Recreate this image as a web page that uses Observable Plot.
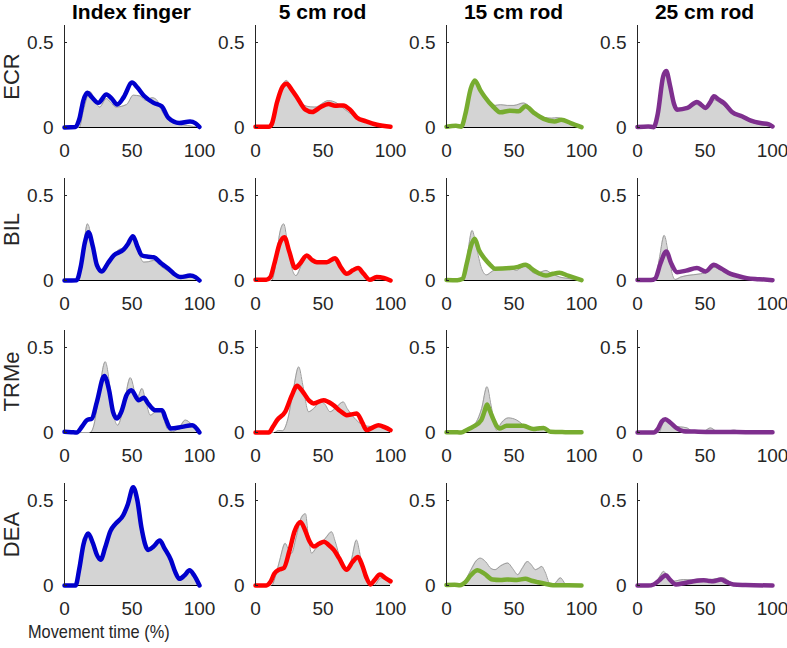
<!DOCTYPE html>
<html><head><meta charset="utf-8">
<script src="https://cdn.jsdelivr.net/npm/d3@7"></script>
<script src="https://cdn.jsdelivr.net/npm/@observablehq/plot@0.6"></script>
<style>
body{margin:0;background:#fff;}
#chart{position:relative;width:787px;height:648px;font-family:"Liberation Sans",Arial,sans-serif;overflow:hidden;background:#fff;color:#000}
.title{position:absolute;font-weight:bold;font-size:21px;text-align:center;width:200px;line-height:21px;height:21px}
.xlab{position:absolute;font-size:19px;line-height:21px;color:#262626;white-space:nowrap;transform:scaleX(0.86);transform-origin:0 0}
</style>
</head><body>
<div id="chart"></div>
<script>
const muscles = ["ECR", "BIL", "TRMe", "DEA"];
const conditions = ["Index finger", "5 cm rod", "15 cm rod", "25 cm rod"];
const lineColors = ["#0000cc", "#ff0000", "#77ac30", "#7e2f8e"];
const xTicks = [0, 50, 100];
const yTicks = [0, 0.5];
const xLabel = "Movement time (%)";

// ---- ECR ----
const ECR_index_line = [[0,0],[8,0.003],[11,0.05],[14,0.16],[17,0.204],[20,0.18],[25,0.145],[31,0.194],[35,0.17],[39,0.135],[44,0.18],[50,0.264],[54,0.235],[59,0.185],[66,0.145],[72,0.125],[77,0.056],[85,0.026],[93,0.036],[97,0.025],[100,0.003]];
const ECR_index_area = [[0,0],[11,0],[14,0.1],[19,0.21],[22,0.17],[26,0.12],[31,0.17],[34,0.15],[38,0.12],[46,0.135],[51,0.19],[56,0.185],[60,0.16],[65,0.175],[68,0.165],[73,0.085],[81,0.026],[91,0.012],[100,0]];
const ECR_5_line = [[0,0.005],[10,0.005],[12,0.02],[16,0.15],[20,0.24],[23,0.257],[27,0.22],[31,0.174],[37,0.105],[42,0.091],[48,0.119],[54,0.138],[59,0.128],[65,0.13],[70,0.105],[75,0.059],[82,0.036],[90,0.016],[100,0.004]];
const ECR_5_area = [[0,0],[12,0],[16,0.13],[20,0.25],[23,0.277],[27,0.22],[32,0.16],[38,0.125],[44,0.12],[54,0.158],[60,0.145],[64,0.12],[68,0.095],[75,0.06],[85,0.03],[92,0.012],[100,0]];
const ECR_15_line = [[0,0.005],[7,0.01],[11,0.005],[14,0.08],[18,0.23],[21,0.277],[25,0.22],[28,0.184],[35,0.119],[40,0.089],[47,0.099],[53.5,0.095],[58.5,0.125],[65,0.085],[72,0.051],[80,0.036],[85,0.045],[92,0.026],[100,0.002]];
const ECR_15_area = [[0,0],[12,0],[15,0.1],[18,0.24],[21,0.275],[25,0.21],[30,0.17],[36,0.13],[40,0.134],[45,0.13],[50,0.13],[57,0.144],[62,0.12],[66,0.085],[72,0.06],[78,0.055],[82,0.058],[86,0.05],[92,0.025],[100,0]];
const ECR_25_line = [[0,0.003],[8,0.006],[12,0.002],[15,0.08],[19,0.3],[21.3,0.332],[24,0.25],[27,0.14],[29.3,0.105],[37,0.115],[44,0.15],[47,0.135],[50.4,0.115],[54,0.15],[56.6,0.184],[60,0.165],[64,0.144],[70,0.091],[77.7,0.065],[84,0.04],[91,0.026],[97,0.02],[100,0.006]];
const ECR_25_area = [[0,0],[13,0],[16,0.12],[19,0.29],[21.3,0.32],[24,0.23],[28,0.12],[32,0.11],[38,0.125],[44,0.135],[50,0.11],[56,0.164],[62,0.14],[70,0.09],[78,0.055],[88,0.022],[95,0.012],[100,0]];

// ---- BIL ----
const BIL_index_line = [[0,0],[9,0.002],[12,0.08],[15,0.22],[17.8,0.284],[21,0.2],[24,0.09],[27.7,0.053],[32,0.1],[36.4,0.147],[43.8,0.182],[47,0.215],[50.7,0.261],[54,0.2],[57.4,0.147],[62,0.14],[66,0.137],[72,0.098],[77,0.069],[81,0.04],[86,0.02],[93,0.029],[97,0.02],[100,0]];
const BIL_index_area = [[0,0],[10,0],[13,0.12],[17,0.333],[20,0.25],[23,0.1],[26.5,0.049],[31,0.1],[35,0.14],[40,0.18],[45,0.196],[50.7,0.245],[54,0.18],[58.7,0.108],[62,0.11],[66,0.118],[72,0.08],[80,0.04],[88,0.015],[95,0.02],[100,0]];
const BIL_5_line = [[0,0.005],[8,0.005],[11,0.02],[14,0.1],[18,0.22],[21.4,0.255],[25,0.17],[29.5,0.073],[33,0.1],[38,0.147],[42,0.12],[45.5,0.108],[52.8,0.108],[59,0.131],[63,0.08],[67.6,0.039],[72,0.06],[76,0.073],[80,0.04],[84.8,0.004],[89.7,0.02],[95,0.015],[100,0]];
const BIL_5_area = [[0,0],[12,0],[15,0.1],[18,0.28],[20.9,0.333],[24,0.2],[27,0.07],[30,0.029],[34,0.09],[38,0.14],[43,0.115],[53,0.108],[59,0.135],[63,0.08],[67.6,0.039],[72,0.06],[76,0.07],[80,0.04],[85,0.005],[92,0.01],[100,0]];
const BIL_15_line = [[0,0.003],[8,0.002],[12,0.01],[15,0.1],[18,0.2],[20.9,0.245],[24,0.18],[28.4,0.127],[32,0.095],[36,0.069],[47,0.073],[53,0.08],[58.5,0.092],[64.8,0.059],[69,0.04],[73.6,0.029],[79,0.04],[83.7,0.045],[90,0.028],[100,0.002]];
const BIL_15_area = [[0,0],[12,0],[15,0.12],[19,0.294],[22,0.2],[26,0.07],[29.6,0.033],[34,0.055],[39.7,0.069],[47,0.07],[52,0.06],[55,0.075],[58,0.085],[62,0.06],[66,0.04],[70,0.05],[73.6,0.059],[78,0.04],[84,0.02],[90,0.012],[100,0]];
const BIL_25_line = [[0,0.003],[10,0.003],[13,0.01],[17,0.1],[21.3,0.171],[25,0.1],[29.3,0.049],[36,0.058],[44,0.073],[50.4,0.053],[56.6,0.092],[62,0.07],[69,0.039],[75,0.025],[81,0.014],[90,0.008],[100,0.002]];
const BIL_25_area = [[0,0],[13,0],[16,0.12],[19.8,0.265],[23,0.15],[26,0.03],[28,0.006],[32,0.02],[36.7,0.029],[46.7,0.039],[52,0.05],[56.6,0.078],[62,0.06],[69,0.035],[78,0.02],[88,0.008],[100,0]];

// ---- TRMe ----
const TRMe_index_line = [[0,0.004],[5,0.002],[9,0],[13,0.035],[16.6,0.073],[20.3,0.082],[24,0.18],[29.5,0.333],[33,0.25],[36,0.12],[38.9,0.082],[42,0.12],[46,0.22],[49.5,0.249],[55,0.19],[58.7,0.204],[62,0.17],[67.3,0.131],[72.3,0.131],[75,0.08],[78.5,0.024],[87,0.033],[94.6,0.043],[100,0]];
const TRMe_index_area = [[0,0],[19,0],[22,0.05],[25,0.2],[30.2,0.416],[34,0.25],[37,0.08],[39.4,0.043],[43,0.12],[48.8,0.322],[53.7,0.2],[57.4,0.259],[60,0.19],[63.6,0.102],[67,0.12],[71,0.141],[73.5,0.08],[76,0.024],[80,0.005],[85,0.03],[89.6,0.073],[94,0.05],[100,0]];
const TRMe_5_line = [[0,0],[9.8,0],[13,0.035],[16,0.073],[22,0.122],[27,0.22],[30.7,0.275],[35,0.24],[40,0.185],[43,0.171],[50.4,0.19],[57.7,0.161],[63,0.125],[67.6,0.102],[72,0.108],[75,0.112],[79,0.06],[82.3,0.014],[87,0.03],[91,0.043],[96,0.03],[100,0.014]];
const TRMe_5_area = [[0,0],[14,0],[17,0.012],[20,0.01],[24,0.08],[28,0.25],[32,0.386],[35,0.28],[39.3,0.122],[43,0.14],[48,0.18],[51,0.17],[55.3,0.122],[60,0.15],[65,0.18],[68,0.14],[72.5,0.092],[80,0.043],[86,0.035],[92,0.045],[97,0.025],[100,0.005]];
const TRMe_15_line = [[0,0.002],[5,0.002],[10.8,0],[15,0.015],[19.5,0.033],[25.8,0.073],[28,0.12],[30,0.165],[32,0.13],[34.5,0.082],[37,0.04],[39.5,0.024],[44.5,0.039],[51,0.04],[57,0.039],[64.5,0.02],[69,0.025],[72,0.027],[77,0.004],[88,0.002],[100,0.001]];
const TRMe_15_area = [[0,0],[13,0],[18,0.03],[22,0.06],[26,0.14],[30,0.269],[33,0.16],[37,0.014],[41,0.06],[45.8,0.086],[52,0.073],[56,0.05],[59.5,0.024],[65,0.03],[69.5,0.033],[73,0.015],[79.5,0],[100,0]];
const TRMe_25_line = [[0,0],[12,0],[15,0.02],[18,0.065],[20.6,0.078],[24,0.06],[29.3,0.024],[34,0.008],[45,0.005],[60,0.003],[80,0.002],[100,0.001]];
const TRMe_25_area = [[0,0],[16,0],[18.5,0.05],[20.6,0.073],[24,0.05],[28,0.035],[31.8,0.033],[36.7,0.027],[40,0.01],[44,0.002],[50,0.01],[54,0.027],[58,0.01],[62,0.003],[67,0.008],[71.5,0.014],[75,0.008],[79,0],[100,0]];

// ---- DEA ----
const DEA_index_line = [[0,0],[8.2,0],[11,0.1],[14,0.24],[17.5,0.306],[21,0.25],[24,0.18],[26.8,0.151],[30,0.22],[34,0.32],[37.9,0.364],[43.5,0.413],[47,0.48],[50.9,0.578],[54,0.5],[57,0.34],[62,0.209],[66,0.23],[70.6,0.264],[74,0.22],[78.8,0.151],[82,0.08],[85,0.039],[89,0.06],[92.6,0.089],[96,0.06],[100,0]];
const DEA_index_area = [[0,0],[9,0],[11.5,0.1],[14,0.24],[17.5,0.3],[21,0.25],[24,0.18],[26.8,0.15],[30,0.22],[34,0.31],[37.9,0.36],[43.5,0.405],[47,0.47],[50.9,0.565],[54,0.49],[57,0.33],[62,0.205],[66,0.225],[70.6,0.26],[74,0.215],[78.8,0.145],[82,0.075],[85,0.035],[89,0.055],[92.6,0.085],[96,0.055],[100,0]];
const DEA_5_line = [[0,0],[8,0],[11,0.02],[14,0.07],[17.4,0.093],[21,0.103],[25,0.2],[29,0.32],[33.3,0.374],[37,0.32],[40,0.26],[43.3,0.229],[47,0.245],[50.7,0.258],[54,0.24],[58,0.209],[62,0.16],[67.4,0.093],[72,0.14],[75.9,0.167],[79,0.12],[82,0.05],[85.2,0.006],[88,0.03],[92.2,0.064],[96,0.045],[100,0.025]];
const DEA_5_area = [[0,0],[12,0],[15,0.06],[18,0.15],[22,0.248],[24,0.22],[26.7,0.19],[30,0.28],[34,0.4],[37,0.422],[39,0.3],[41.5,0.19],[45,0.22],[49,0.25],[53,0.29],[56.3,0.316],[59,0.26],[63,0.15],[67.4,0.083],[71,0.15],[74.8,0.267],[77,0.2],[80.4,0.054],[84,0.02],[87.8,0],[93,0.045],[97,0.03],[100,0.01]];
const DEA_15_line = [[0,0.003],[6,0.005],[10,0.002],[14,0.02],[18,0.06],[23,0.089],[28,0.07],[34,0.035],[40,0.032],[45,0.035],[52,0.033],[58.4,0.039],[63,0.028],[67.7,0.019],[73,0.01],[78.8,0.002],[90,0.001],[100,0]];
const DEA_15_area = [[0,0],[10,0],[14,0.03],[18,0.09],[22,0.145],[25,0.161],[29,0.14],[33,0.1],[36,0.093],[40,0.115],[45.4,0.132],[49,0.1],[52.8,0.064],[56,0.1],[60,0.141],[63,0.12],[65.8,0.093],[68,0.1],[70.6,0.112],[73,0.08],[77,0.006],[80,0.01],[84.4,0.045],[87,0.02],[88.5,0],[100,0]];
const DEA_25_line = [[0,0],[8,0],[12,0.006],[16,0.03],[19,0.052],[21,0.06],[24,0.035],[28.5,0.006],[35,0.015],[41.5,0.025],[49,0.031],[53,0.027],[56,0.025],[61.9,0.035],[66,0.02],[71,0.006],[80,0.003],[100,0]];
const DEA_25_area = [[0,0],[10,0],[14,0.02],[17,0.06],[19.3,0.083],[22,0.06],[26.7,0.025],[30,0.03],[34,0.035],[40,0.033],[45,0.038],[49,0.039],[54,0.035],[58,0.04],[63.7,0.045],[67,0.03],[71,0.01],[76,0.005],[82,0.003],[100,0]];

const lines = [
  [ECR_index_line, ECR_5_line, ECR_15_line, ECR_25_line],
  [BIL_index_line, BIL_5_line, BIL_15_line, BIL_25_line],
  [TRMe_index_line, TRMe_5_line, TRMe_15_line, TRMe_25_line],
  [DEA_index_line, DEA_5_line, DEA_15_line, DEA_25_line]
];
const areas = [
  [ECR_index_area, ECR_5_area, ECR_15_area, ECR_25_area],
  [BIL_index_area, BIL_5_area, BIL_15_area, BIL_25_area],
  [TRMe_index_area, TRMe_5_area, TRMe_15_area, TRMe_25_area],
  [DEA_index_area, DEA_5_area, DEA_15_area, DEA_25_area]
];

// layout
const colX0 = 64, colStep = 191, panelW = 135;
const rowTop0 = 25, rowStep = 152.5, panelH = 102;
const mL = 50, mR = 6, mT = 10, mB = 40;
const chart = document.getElementById("chart");
const font = "'Liberation Sans', Arial, sans-serif";

conditions.forEach((c, j) => {
  const d = document.createElement("div");
  d.className = "title";
  d.textContent = c;
  d.style.left = (colX0 + j * colStep + panelW / 2 - 100) + "px";
  d.style.top = "1px";
  chart.appendChild(d);
});

muscles.forEach((m, i) => {
  conditions.forEach((c, j) => {
    const ln = lines[i][j].map(([x, y]) => ({x, y}));
    const ar = areas[i][j].map(([x, y]) => ({x, y}));
    // extent where the reference area is non-zero (black baseline drawn there)
    let s = 0, e = ar.length - 1;
    while (s < ar.length - 1 && ar[s + 1].y === 0) s++;
    while (e > 0 && ar[e - 1].y === 0) e--;
    const base = [{x1: ar[s].x, x2: ar[e].x}];
    const marks = [
      Plot.areaY(ar, {x: "x", y: "y", fill: "#d4d4d4", curve: "monotone-x"}),
      Plot.lineY(ar, {x: "x", y: "y", stroke: "#9c9c9c", strokeWidth: 1, curve: "monotone-x"}),
      Plot.ruleY(base, {y: 0, x1: "x1", x2: "x2", stroke: "#000", strokeWidth: 1}),
      Plot.lineY(ln, {x: "x", y: "y", stroke: lineColors[j], strokeWidth: 4.5, curve: "monotone-x", strokeLinejoin: "round", strokeLinecap: "round"}),
      Plot.ruleX([0], {stroke: "#262626", strokeWidth: 1}),
      Plot.axisX({ticks: xTicks, tickSize: 0, tickPadding: 16, label: null, fontSize: 19, tickFormat: d => String(d)}),
      Plot.axisY({ticks: yTicks, tickSize: -3, tickPadding: 14, label: null, fontSize: 19, tickFormat: d => String(d)})
    ];
    if (j === 0) {
      marks.push(Plot.text([m], {frameAnchor: "left", rotate: -90, dx: -(colX0 - 11), fontSize: 22, fill: "#262626", textAnchor: "middle", lineAnchor: "middle"}));
    }
    const p = Plot.plot({
      width: mL + panelW + mR,
      height: mT + panelH + mB,
      marginLeft: mL, marginRight: mR, marginTop: mT, marginBottom: mB,
      style: {background: "transparent", overflow: "visible", fontFamily: font, fontSize: "19px", color: "#262626"},
      x: {domain: [0, 100]},
      y: {domain: [0, 0.6]},
      marks
    });
    p.style.position = "absolute";
    p.style.left = (colX0 + j * colStep - mL) + "px";
    p.style.top = (rowTop0 + i * rowStep - mT) + "px";
    chart.appendChild(p);
  });
});

const xl = document.createElement("div");
xl.className = "xlab";
xl.textContent = xLabel;
xl.style.left = "28px";
xl.style.top = "621px";
chart.appendChild(xl);
</script>
</body></html>
